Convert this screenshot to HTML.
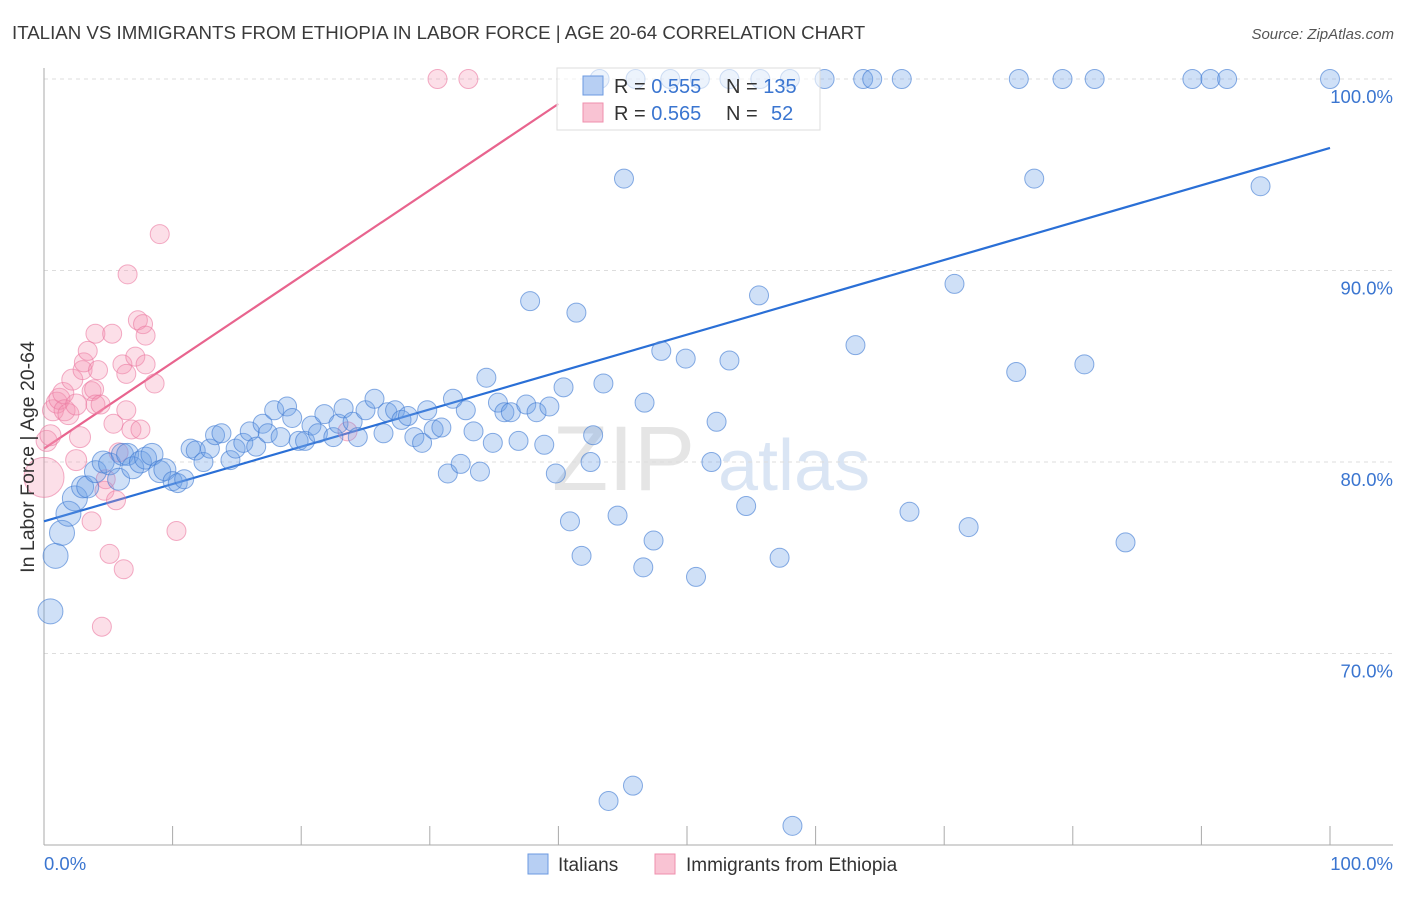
<!DOCTYPE html>
<html><head><meta charset="utf-8"><style>
body{margin:0;background:#fff;font-family:"Liberation Sans",sans-serif;}
svg text{font-family:"Liberation Sans",sans-serif;}
</style></head><body>
<svg id="chart" width="1406" height="892" xmlns="http://www.w3.org/2000/svg">
<text x="12" y="39" font-size="18.7" fill="#3a3a3a">ITALIAN VS IMMIGRANTS FROM ETHIOPIA IN LABOR FORCE | AGE 20-64 CORRELATION CHART</text>
<text x="1394" y="39" font-size="15" fill="#555" text-anchor="end" font-style="italic">Source: ZipAtlas.com</text>
<g opacity="0.5">
<text x="552" y="490" font-size="92" fill="#ccc" font-family="Liberation Serif, serif">ZIP</text>
<text x="718" y="490" font-size="72" fill="#b7cdea">atlas</text>
</g>
<g id="grid"></g><g id="axes"></g><g id="lines"></g><g id="pts"></g>
<text transform="translate(34,457) rotate(-90)" font-size="19.5" fill="#333" text-anchor="middle">In Labor Force | Age 20-64</text>
<g>
<rect x="557" y="68" width="263" height="62" fill="#fff" fill-opacity="0.6" stroke="#ddd"/>
<rect x="583" y="76" width="20" height="19" fill="#b7cff3" stroke="#6b9ae0"/>
<rect x="583" y="103" width="20" height="19" fill="#f9c3d3" stroke="#ef8fad"/>
<text x="614" y="93" font-size="20" fill="#333">R = <tspan fill="#3a75d0">0.555</tspan><tspan x="726">N = </tspan><tspan fill="#3a75d0">135</tspan></text>
<text x="614" y="120" font-size="20" fill="#333">R = <tspan fill="#3a75d0">0.565</tspan><tspan x="726">N = </tspan><tspan x="771" fill="#3a75d0">52</tspan></text>
</g>
<g>
<rect x="528" y="854" width="20" height="20" fill="#b7cff3" stroke="#6b9ae0"/>
<text x="558" y="871" font-size="19" fill="#333">Italians</text>
<rect x="655" y="854" width="20" height="20" fill="#f9c3d3" stroke="#ef8fad"/>
<text x="686" y="871" font-size="19" fill="#333">Immigrants from Ethiopia</text>
</g>
</svg>
<script>
const blueX=[0.5,0.9,1.4,1.9,2.4,3.0,3.4,4.0,4.6,5.1,5.8,6.1,6.5,6.9,7.5,7.9,8.4,9.0,9.4,10.0,10.4,10.9,11.4,11.8,12.4,12.9,13.3,13.8,14.5,14.9,15.5,16.0,16.5,17.0,17.4,17.9,18.4,18.9,19.3,19.8,20.3,20.8,21.3,21.8,22.5,22.9,23.3,24.0,24.4,25.0,25.7,26.4,26.7,27.3,27.8,28.3,28.8,29.4,29.8,30.3,30.9,31.4,31.8,32.4,32.8,33.4,33.9,34.4,34.9,35.3,35.8,36.3,36.9,37.5,37.8,38.3,38.9,39.3,39.8,40.4,40.9,41.4,41.8,42.5,42.7,43.5,44.6,45.1,46.6,46.7,47.4,48.0,49.9,50.7,51.9,52.3,53.3,54.6,55.6,57.2,58.2,43.9,45.8,63.1,67.3,70.8,71.9,75.6,77.0,80.9,84.1,94.6,43.2,46.0,48.7,51.0,53.3,55.7,58.0,60.7,63.7,64.4,66.7,75.8,79.2,81.7,89.3,90.7,92.0,100];
const blueY=[72.2,75.1,76.3,77.3,78.1,78.7,78.7,79.5,80.0,79.9,79.1,80.4,80.4,79.7,80.0,80.2,80.4,79.5,79.6,79.0,78.9,79.1,80.7,80.6,80.0,80.7,81.4,81.5,80.1,80.7,81.0,81.6,80.8,82.0,81.5,82.7,81.3,82.9,82.3,81.1,81.1,81.9,81.5,82.5,81.3,82.0,82.8,82.1,81.3,82.7,83.3,81.5,82.6,82.7,82.2,82.4,81.3,81.0,82.7,81.7,81.8,79.4,83.3,79.9,82.7,81.6,79.5,84.4,81.0,83.1,82.6,82.6,81.1,83.0,88.4,82.6,80.9,82.9,79.4,83.9,76.9,87.8,75.1,80.0,81.4,84.1,77.2,94.8,74.5,83.1,75.9,85.8,85.4,74.0,80.0,82.1,85.3,77.7,88.7,75.0,61.0,62.3,63.1,86.1,77.4,89.3,76.6,84.7,94.8,85.1,75.8,94.4,100,100,100,100,100,100,100,100,100,100,100,100,100,100,100,100,100,100];
const pinkX=[0,0.2,0.5,0.7,1.0,1.2,1.5,1.6,1.9,2.2,2.5,2.5,2.8,3.0,3.1,3.4,3.7,3.7,3.9,4.0,4.0,4.2,4.4,4.7,4.8,5.1,5.3,5.4,5.6,5.8,6.1,6.2,6.4,6.4,6.5,6.8,7.1,7.3,7.5,7.7,7.9,7.9,8.6,9.0,10.3,4.5,30.6,33.0,23.6];
const pinkY=[79.2,81.1,81.4,82.7,83.1,83.3,83.6,82.7,82.5,84.3,83.0,80.1,81.3,84.8,85.2,85.8,83.7,76.9,83.8,83.0,86.7,84.8,83.0,78.5,79.1,75.2,86.7,82.0,78.0,80.5,85.1,74.4,82.7,84.6,89.8,81.7,85.5,87.4,81.7,87.2,86.6,85.1,84.1,91.9,76.4,71.4,100,100,81.6];
const trendBlue=[76.9,0.195]; // intercept, slope
const trendPink=[80.7,0.45];
const xTicks=[0,10,20,30,40,50,60,70,80,90,100];
const yTicks=[100,90,80,70];
const yTickLabels=["100.0%","90.0%","80.0%","70.0%"];

const NS="http://www.w3.org/2000/svg";
const X=v=>44+v*12.86, Y=v=>79+(100-v)*19.15;
function mk(p,t,a){const e=document.createElementNS(NS,t);for(const k in a)e.setAttribute(k,a[k]);p.appendChild(e);return e;}
const grid=document.getElementById('grid'),axes=document.getElementById('axes'),lines=document.getElementById('lines'),pts=document.getElementById('pts');
yTicks.forEach((t,i)=>{
 const g=mk(grid,'line',{x1:44,x2:1393,y1:Y(t),y2:Y(t),stroke:'#ddd','stroke-dasharray':'4,4'});
 
 
 const l=mk(axes,'text',{x:1393,y:Y(t)+24,'font-size':18.5,fill:'#3a75d0','text-anchor':'end'});
 l.textContent=yTickLabels[i];
 
 
});
const ax=mk(axes,'line',{x1:44,x2:44,y1:68,y2:845,stroke:'#aaa'});


const bx=mk(axes,'line',{x1:44,x2:1393,y1:845,y2:845,stroke:'#aaa'});


xTicks.forEach(t=>{
 const k=mk(axes,'line',{x1:X(t),x2:X(t),y1:826,y2:845,stroke:'#aaa'});
 
 
});
[[0,'0.0%','start',44],[100,'100.0%','end',1393]].forEach(a=>{
 const l=mk(axes,'text',{x:a[3],y:870,'font-size':18.5,fill:'#3a75d0','text-anchor':a[2]});
 l.textContent=a[1];
 
 
});
const lb=mk(lines,'line',{x1:X(0),y1:Y(trendBlue[0]),x2:X(100),y2:Y(trendBlue[0]+trendBlue[1]*100),stroke:'#2a6fd6','stroke-width':2.2});


const lp=mk(lines,'line',{x1:X(0),y1:Y(trendPink[0]),x2:X(40),y2:Y(trendPink[0]+trendPink[1]*40),stroke:'#e8648e','stroke-width':2.2});


pinkX.forEach((x,i)=>{
 const r=i===0?20:(x<3?10.5:9.5);
 const c=mk(pts,'circle',{cx:X(x),cy:Y(pinkY[i]),r:r,fill:'rgba(245,150,180,0.3)',stroke:'rgba(235,120,160,0.6)','stroke-width':1});
 
 
});
blueX.forEach((x,i)=>{
 const r=x<3?12.5:(x<10?11:9.5);
 const c=mk(pts,'circle',{cx:X(x),cy:Y(blueY[i]),r:r,fill:'rgba(110,160,230,0.33)',stroke:'rgba(60,120,210,0.6)','stroke-width':1});
 
 
});
</script>
</body></html>
